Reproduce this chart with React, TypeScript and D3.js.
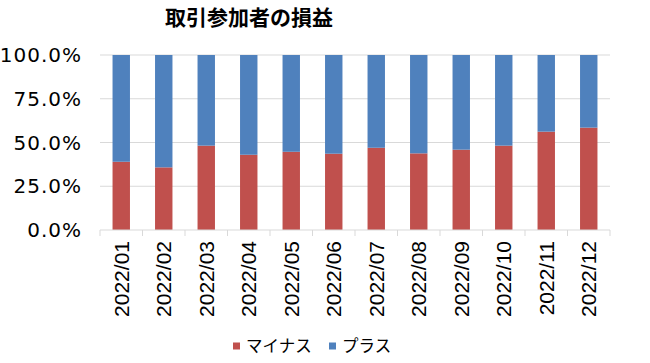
import React from 'react';
import * as d3 from 'd3';

const months = ['2022/01', '2022/02', '2022/03', '2022/04', '2022/05', '2022/06',
  '2022/07', '2022/08', '2022/09', '2022/10', '2022/11', '2022/12'];
const minus = [39.0, 35.8, 48.2, 43.0, 44.7, 43.6, 47.0, 43.8, 45.9, 48.2, 56.2, 58.5];
const plus = [61.0, 64.2, 51.8, 57.0, 55.3, 56.4, 53.0, 56.2, 54.1, 51.8, 43.8, 41.5];
const yTicks = [0, 25, 50, 75, 100];
const seriesNames = ['マイナス', 'プラス'];
const colors = ['#C0504D', '#4F81BD'];

const W = 650, H = 363;
const left = 100, right = 610, top = 55, bottom = 230;

export default function App() {
  const x = d3.scaleBand().domain(months).range([left, right]).paddingInner(0.59).paddingOuter(0.295);
  const y = d3.scaleLinear().domain([0, 100]).range([bottom, top]);
  const rows = months.map((m, i) => ({ m, minus: minus[i], plus: plus[i] }));
  const stack = d3.stack<any>().keys(['minus', 'plus']).offset(d3.stackOffsetExpand)(rows);
  const step = (right - left) / months.length;

  return (
    <svg width={W} height={H} style={{ position: 'absolute', left: 0, top: 0, background: '#fff' }}>
      <text x={249} y={25} textAnchor="middle" fontFamily="'Noto Sans CJK JP'" fontWeight="bold" fontSize={21} fill="#000">取引参加者の損益</text>
      {yTicks.map(t => (
        <g key={t}>
          {t > 0 && <line x1={left} x2={right} y1={y(t)} y2={y(t)} stroke="#d9d9d9" strokeWidth={1} />}
          <text x={82} y={y(t)} dy="0.36em" textAnchor="end" fontFamily="'DejaVu Sans'" fontSize={20} letterSpacing={1} fill="#000">{t.toFixed(1)}%</text>
        </g>
      ))}
      {stack.map((s, si) => (
        <g key={si} fill={colors[si]}>
          {s.map((d, i) => (
            <rect key={i} x={x(months[i])} width={x.bandwidth()} y={y(d[1] * 100)} height={y(d[0] * 100) - y(d[1] * 100)} />
          ))}
        </g>
      ))}
      <line x1={left} x2={right} y1={bottom} y2={bottom} stroke="#d9d9d9" />
      {d3.range(months.length + 1).map(i => (
        <line key={i} x1={left + i * step} x2={left + i * step} y1={bottom} y2={bottom + 6} stroke="#d9d9d9" />
      ))}
      {months.map(m => {
        const cx = (x(m) as number) + x.bandwidth() / 2;
        return (
          <text key={m} transform={`translate(${cx},241) rotate(-90)`} dy="0.36em" textAnchor="end" fontFamily="'Liberation Sans'" fontSize={21} fill="#000">{m}</text>
        );
      })}
      {seriesNames.map((n, i) => {
        const lx = [233, 329][i];
        return (
          <g key={n}>
            <rect x={lx} y={342.5} width={7} height={7} fill={colors[i]} />
            <text x={lx + 13} y={346} dy="0.36em" fontFamily="'Noto Sans CJK JP'" fontSize={16.5} fill="#000">{n}</text>
          </g>
        );
      })}
    </svg>
  );
}
